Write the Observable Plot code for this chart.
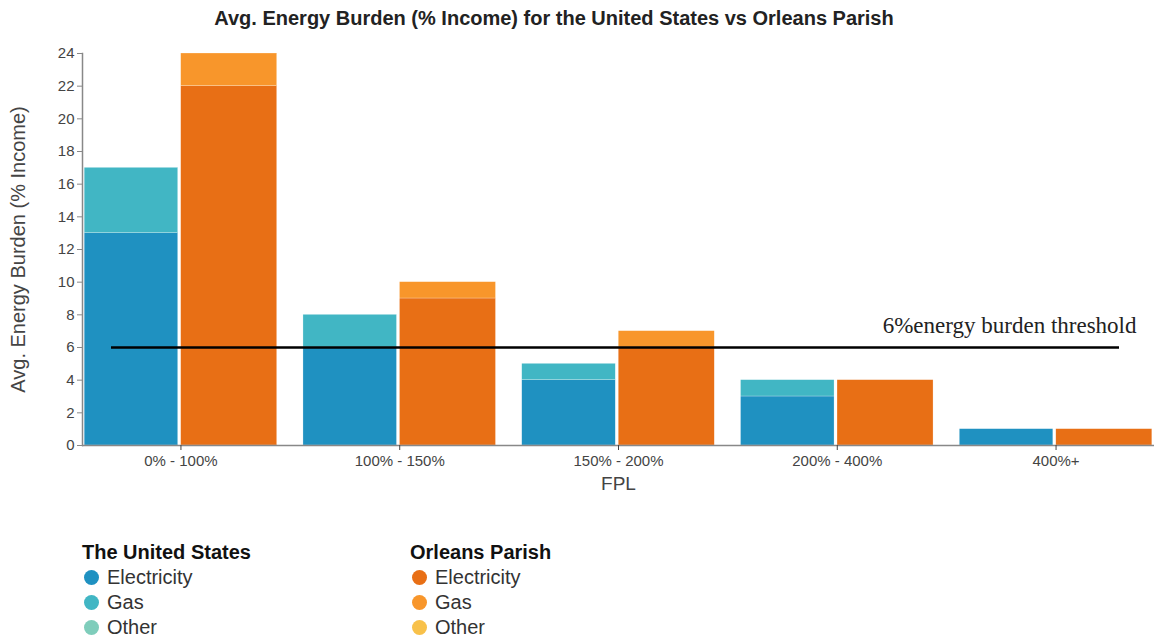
<!DOCTYPE html>
<html>
<head>
<meta charset="utf-8">
<script src="https://cdn.jsdelivr.net/npm/d3@7"></script>
<script src="https://cdn.jsdelivr.net/npm/@observablehq/plot@0.6"></script>
<style>
  body { margin: 0; background: #fff; font-family: "Liberation Sans", Arial, sans-serif; }
  #wrap { position: relative; width: 1154px; height: 639px; }
  #title { width: 1108px; height: 36px; line-height: 36px; text-align: center; font-weight: bold; font-size: 20px; color: #222; }
  #legend { position: absolute; top: 540px; left: 82px; display: flex; }
  .col { width: 328px; }
  .lt { font-weight: bold; font-size: 20px; color: #111; height: 25px; line-height: 25px; }
  .li { font-size: 20px; color: #333; height: 25px; line-height: 25px; display: flex; align-items: center; }
  .dot { width: 15px; height: 15px; border-radius: 50%; margin-right: 8px; margin-left: 2px; }
</style>
</head>
<body>
<div id="wrap">
  <div id="title">Avg. Energy Burden (% Income) for the United States vs Orleans Parish</div>
  <div id="chart"></div>
  <div id="legend"></div>
</div>
<script>
const fpl = ["0% - 100%", "100% - 150%", "150% - 200%", "200% - 400%", "400%+"];
const regions = ["The United States", "Orleans Parish"];
const types = ["Electricity", "Gas", "Other"];
const usElectricity = [13, 6, 4, 3, 1];
const usGas = [4, 2, 1, 1, 0];
const usOther = [0, 0, 0, 0, 0];
const orElectricity = [22, 9, 6, 4, 1];
const orGas = [2, 1, 1, 0, 0];
const orOther = [0, 0, 0, 0, 0];
const yTicks = [0, 2, 4, 6, 8, 10, 12, 14, 16, 18, 20, 22, 24];
const threshold = 6;
const thresholdLabel = "6%energy burden threshold";
const usColors = ["#1f91c1", "#41b6c4", "#7fcdbb"];
const orColors = ["#e86f15", "#f8962b", "#f8c14a"];

const series = {
  "The United States": [usElectricity, usGas, usOther],
  "Orleans Parish": [orElectricity, orGas, orOther]
};
const rows = [];
for (const r of regions) {
  types.forEach((t, ti) => {
    fpl.forEach((f, fi) => {
      rows.push({fpl: f, region: r, type: t, key: r + " " + t, value: series[r][ti][fi]});
    });
  });
}
const colorDomain = [...types.map(t => regions[0] + " " + t), ...types.map(t => regions[1] + " " + t)];
const colorRange = [...usColors, ...orColors];

const chart = Plot.plot({
  width: 1154,
  height: 469,
  marginTop: 17,
  marginBottom: 60,
  marginLeft: 82,
  marginRight: 0,
  style: {fontFamily: "Liberation Sans, Arial, sans-serif", fontSize: "15px", color: "#444"},
  x: {type: "band", domain: fpl, paddingInner: 0.12, paddingOuter: 0.01, round: false},
  y: {domain: [0, 24]},
  color: {domain: colorDomain, range: colorRange},
  marks: [
    Plot.barY(rows.filter(d => d.region === regions[0]), {
      x: "fpl", y: "value", fill: "key", order: types.map(t => regions[0] + " " + t),
      insetLeft: 0, insetRight: 99, stroke: "#fff", strokeOpacity: 0.5, strokeWidth: 0.5
    }),
    Plot.barY(rows.filter(d => d.region === regions[1]), {
      x: "fpl", y: "value", fill: "key", order: types.map(t => regions[1] + " " + t),
      insetLeft: 96.5, insetRight: 0, stroke: "#fff", strokeOpacity: 0.5, strokeWidth: 0.5
    }),
    Plot.ruleY([0], {stroke: "#888", strokeWidth: 1.5}),
    Plot.frame({anchor: "left", stroke: "#888", strokeWidth: 1.5}),
    Plot.axisY({ticks: yTicks, tickSize: 5, tickPadding: 3, stroke: "#888", label: "Avg. Energy Burden (% Income)", labelAnchor: "center", labelArrow: "none", labelOffset: 72, fontSize: 15}),
    Plot.axisX({tickSize: 5, tickPadding: 5, label: "FPL", labelAnchor: "center", labelArrow: "none", labelOffset: 44, fontSize: 15}),
    Plot.ruleY([threshold], {stroke: "#000", strokeWidth: 2.5, insetLeft: 29, insetRight: 35}),
    Plot.text([{y: threshold, label: thresholdLabel}], {
      y: "y", text: "label", frameAnchor: "right", textAnchor: "end", dx: -18, dy: -22,
      fontFamily: "Liberation Serif, DejaVu Serif, serif", fontSize: 23, fill: "#222"
    })
  ]
});
document.getElementById("chart").appendChild(chart);

// axis label font sizes
chart.querySelectorAll("[aria-label='y-axis label'] text").forEach(t => t.setAttribute("font-size", "20"));
chart.querySelectorAll("[aria-label='x-axis label'] text").forEach(t => t.setAttribute("font-size", "19"));

const legend = document.getElementById("legend");
regions.forEach((r, ri) => {
  const col = document.createElement("div");
  col.className = "col";
  const t = document.createElement("div");
  t.className = "lt";
  t.textContent = r;
  col.appendChild(t);
  const cols = ri === 0 ? usColors : orColors;
  types.forEach((ty, i) => {
    const it = document.createElement("div");
    it.className = "li";
    const dot = document.createElement("span");
    dot.className = "dot";
    dot.style.background = cols[i];
    it.appendChild(dot);
    it.appendChild(document.createTextNode(ty));
    col.appendChild(it);
  });
  legend.appendChild(col);
});
</script>
</body>
</html>
